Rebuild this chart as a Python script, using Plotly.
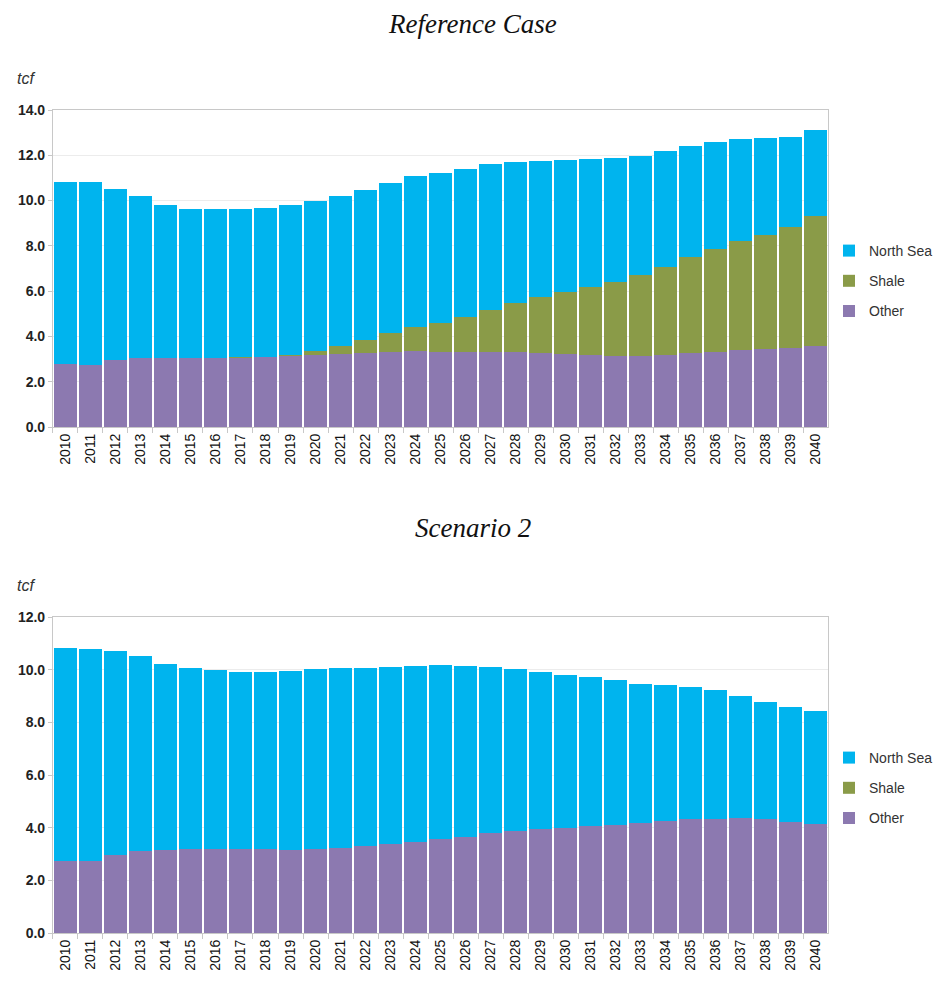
import plotly.graph_objects as go

years = [str(y) for y in range(2010, 2041)]

# Reference Case (stack tops, tcf)
ref_other = [2.78, 2.72, 2.96, 3.06, 3.06, 3.06, 3.06, 3.09, 3.10, 3.16, 3.18, 3.22, 3.28, 3.33, 3.37,
             3.33, 3.33, 3.33, 3.33, 3.28, 3.24, 3.18, 3.14, 3.14, 3.18, 3.28, 3.33, 3.42, 3.46, 3.50, 3.59]
ref_shale_top = [2.78, 2.72, 2.96, 3.06, 3.06, 3.06, 3.06, 3.11, 3.11, 3.18, 3.37, 3.59, 3.86, 4.15, 4.42,
                 4.61, 4.86, 5.17, 5.48, 5.74, 5.96, 6.17, 6.39, 6.70, 7.05, 7.50, 7.85, 8.20, 8.49, 8.82, 9.33]
ref_total = [10.81, 10.81, 10.51, 10.20, 9.81, 9.63, 9.63, 9.63, 9.67, 9.81, 9.98, 10.20, 10.47, 10.78, 11.09,
             11.22, 11.40, 11.62, 11.71, 11.75, 11.79, 11.84, 11.88, 11.97, 12.19, 12.41, 12.59, 12.72, 12.76, 12.81, 13.12]

# Scenario 2
s2_other = [2.72, 2.72, 2.95, 3.10, 3.14, 3.18, 3.18, 3.18, 3.18, 3.14, 3.18, 3.22, 3.29, 3.37, 3.46,
            3.56, 3.63, 3.79, 3.86, 3.94, 3.98, 4.05, 4.09, 4.17, 4.24, 4.32, 4.32, 4.36, 4.32, 4.20, 4.13]
s2_shale = [0.0] * 31
s2_total = [10.84, 10.80, 10.72, 10.53, 10.23, 10.05, 9.98, 9.90, 9.90, 9.94, 10.01, 10.05, 10.05, 10.09, 10.13,
            10.16, 10.13, 10.09, 10.01, 9.90, 9.79, 9.71, 9.60, 9.45, 9.41, 9.33, 9.22, 8.99, 8.76, 8.57, 8.42]

ref_shale = [round(s - o, 3) for s, o in zip(ref_shale_top, ref_other)]
ref_north = [round(t - s, 3) for t, s in zip(ref_total, ref_shale_top)]
s2_north = [round(t - o - s, 3) for t, o, s in zip(s2_total, s2_other, s2_shale)]

series_names = ["Other", "Shale", "North Sea"]
legend_rank = {"North Sea": 1, "Shale": 2, "Other": 3}
colors = {"North Sea": "#00B4EE", "Shale": "#8A9B48", "Other": "#8C79B0"}
panel_titles = ["Reference Case", "Scenario 2"]

OFF = 8
W, H = 930, 965
fig = go.Figure()

panels = [
    dict(data={"Other": ref_other, "Shale": ref_shale, "North Sea": ref_north},
         xa="x", ya="y", legend="legend"),
    dict(data={"Other": s2_other, "Shale": s2_shale, "North Sea": s2_north},
         xa="x2", ya="y2", legend="legend2"),
]

for i, p in enumerate(panels):
    for name in series_names:
        fig.add_trace(go.Bar(
            x=years, y=p["data"][name], name=name,
            marker=dict(color=colors[name], line=dict(width=0)),
            xaxis=p["xa"], yaxis=p["ya"], legend=p["legend"],
            legendgroup=f"{name}{i}", legendrank=legend_rank[name],
        ))

def px_x(x):
    return (x - OFF) / W

def px_y(y):
    return 1 - (y - OFF) / H

def ydom(top_px, bot_px):
    return [px_y(bot_px), px_y(top_px)]

xdom = [px_x(53), px_x(829)]
grid_col = "#ececec"
line_col = "#c8c8c8"
tickfont_y = dict(family="Liberation Sans, Arial", size=14, color="#222222", weight="bold")
tickfont_x = dict(family="Liberation Sans, Arial", size=14, color="#111111")

common_x = dict(domain=xdom, type="category", tickangle=-90, tickfont=tickfont_x,
                showline=True, linecolor=line_col, linewidth=1, mirror=True,
                ticks="outside", tickson="boundaries", ticklen=5, tickcolor=line_col,
                showgrid=False, automargin=False)
common_y = dict(showline=True, linecolor=line_col, linewidth=1, mirror=True,
                ticks="outside", ticklen=4, tickcolor=line_col,
                showgrid=True, gridcolor=grid_col, gridwidth=1,
                tickformat=".1f", tickfont=tickfont_y, zeroline=False, automargin=False)

legend_common = dict(xanchor="left", yanchor="top",
                     traceorder="grouped", tracegroupgap=9, itemwidth=30,
                     font=dict(family="Liberation Sans, Arial", size=14, color="#333333"),
                     bgcolor="rgba(0,0,0,0)")

fig.update_layout(
    width=W, height=H,
    margin=dict(l=0, r=0, t=0, b=0),
    plot_bgcolor="white", paper_bgcolor="white",
    barmode="stack", bargap=0.1,
    xaxis=dict(anchor="y", **common_x),
    yaxis=dict(anchor="x", domain=ydom(110, 427), range=[0, 14], dtick=2, **common_y),
    xaxis2=dict(anchor="y2", **common_x),
    yaxis2=dict(anchor="x2", domain=ydom(617, 933), range=[0, 12], dtick=2, **common_y),
    legend=dict(x=px_x(830), y=px_y(235), **legend_common),
    legend2=dict(x=px_x(830), y=px_y(742), **legend_common),
)

annots = []
for title, ypx in zip(panel_titles, [24, 528]):
    annots.append(dict(text=f"<i>{title}</i>", x=px_x(473), y=px_y(ypx), xref="paper", yref="paper",
                       showarrow=False, xanchor="center", yanchor="middle",
                       font=dict(family="Liberation Serif, Times New Roman", size=27, color="#111111")))
for ypx in [78, 585]:
    annots.append(dict(text="<i>tcf</i>", x=px_x(26), y=px_y(ypx), xref="paper", yref="paper",
                       showarrow=False, xanchor="center", yanchor="middle",
                       font=dict(family="Liberation Sans, Arial", size=16, color="#333333")))
fig.update_layout(annotations=annots)

fig.write_html("out.html")
